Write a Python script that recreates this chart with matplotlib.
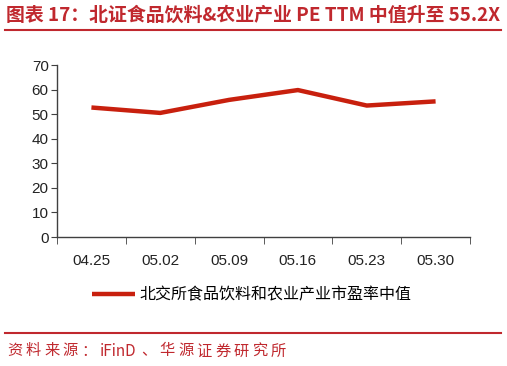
import matplotlib.pyplot as plt
import numpy as np

plt.rcParams['font.family'] = ['Noto Sans CJK SC', 'DejaVu Sans']

dates = ['04.25', '05.02', '05.09', '05.16', '05.23', '05.30']
pe_median = [52.7, 50.5, 55.8, 59.8, 53.5, 55.2]
series_name = '北交所食品饮料和农业产业市盈率中值'

title = '图表 17：北证食品饮料&农业产业 PE TTM 中值升至 55.2X'
source = '资料来源：iFinD、华源证券研究所'

red = '#C0282E'
W, H = 507, 366

fig = plt.figure(figsize=(W / 100, H / 100), dpi=100)

# title and rules
fig.text(6 / W, 1 - 15 / H, title, color=red, fontsize=13.6, fontweight='bold',
         va='center', ha='left')
fig.add_artist(plt.Line2D([5 / W, 501 / W], [1 - 30 / H, 1 - 30 / H], color=red, lw=1.5))
fig.add_artist(plt.Line2D([5 / W, 501 / W], [1 - 333 / H, 1 - 333 / H], color=red, lw=1.5))

# source line: full-width chars on an 18.5px grid, ascii runs drawn whole
runs = []
for ch in source:
    wide = ord(ch) > 0x2000
    if not wide and runs and not runs[-1][1]:
        runs[-1][0] += ch
    else:
        runs.append([ch, wide])
xpos = 7
for txt, wide in runs:
    fig.text(xpos / W, 1 - 351 / H, txt, color=red, fontsize=11,
             va='center', ha='left')
    xpos += 18.5 if wide else 8.3 * len(txt)

ax = fig.add_axes([57 / W, 1 - 237 / H, (470 - 57) / W, (237 - 65) / H])
x = np.arange(len(dates))
line, = ax.plot(x, pe_median, color='#C8200E', lw=3.2, solid_capstyle='butt')

ax.set_xlim(-0.5, len(dates) - 0.5)
ax.set_ylim(0, 70)
ax.set_yticks(range(0, 71, 10))
ax.set_xticks(x)
ax.set_xticklabels(dates)
ax.set_xticks(np.arange(-0.5, len(dates), 1), minor=True)
ax.tick_params(axis='x', which='major', length=0, pad=12)
ax.tick_params(axis='x', which='minor', length=5, color='#404040')
ax.tick_params(axis='y', length=4, color='#404040', pad=2)
ax.tick_params(labelsize=11, labelcolor='#222222')
for lab in ax.get_xticklabels() + ax.get_yticklabels():
    lab.set_family('Liberation Sans')
for s in ['top', 'right']:
    ax.spines[s].set_visible(False)
for s in ['left', 'bottom']:
    ax.spines[s].set_color('#404040')
    ax.spines[s].set_linewidth(1)

fig.legend([line], [series_name], loc='center', bbox_to_anchor=(252 / W, 1 - 295 / H),
           frameon=False, fontsize=11.5, handlelength=2.7, handletextpad=0.3)

fig.savefig('out.png', dpi=100)
